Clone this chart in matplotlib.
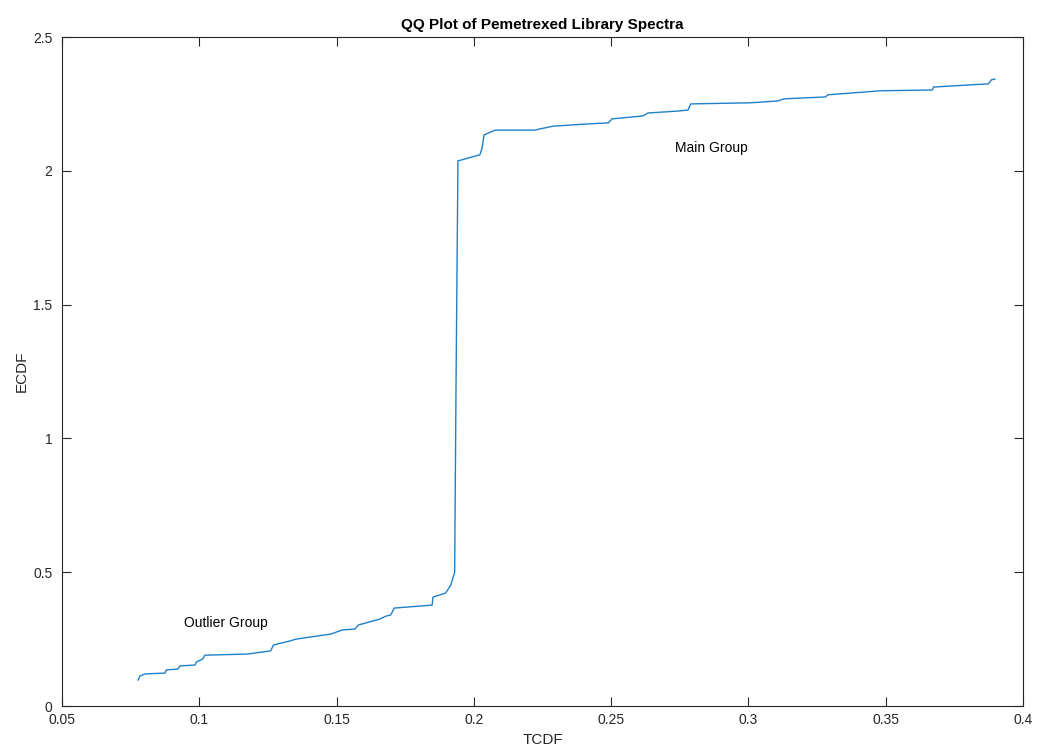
import matplotlib
matplotlib.use("Agg")
import matplotlib.pyplot as plt

plt.rcParams['font.family'] = ['Liberation Sans', 'DejaVu Sans']

# QQ curve points (TCDF, ECDF)
tcdf = [0.0777, 0.0784, 0.0802, 0.0875, 0.0880, 0.0922, 0.0930, 0.0984, 0.0990,
        0.1013, 0.1020, 0.1174, 0.1260, 0.1270, 0.1330, 0.1352, 0.1480, 0.1520,
        0.1567, 0.1580, 0.1658, 0.1680, 0.1697, 0.1710, 0.1848, 0.1851, 0.1897,
        0.1916, 0.1930, 0.1935, 0.1942, 0.2022, 0.2030, 0.2037, 0.2077, 0.2220,
        0.2290, 0.2412, 0.2490, 0.2503, 0.2616, 0.2634, 0.2740, 0.2780, 0.2790,
        0.3006, 0.3107, 0.3130, 0.3280, 0.3290, 0.3480, 0.3670, 0.3674, 0.3874,
        0.3885, 0.3898]
ecdf = [0.097, 0.112, 0.120, 0.123, 0.135, 0.138, 0.150, 0.153, 0.165,
        0.176, 0.190, 0.194, 0.206, 0.228, 0.243, 0.250, 0.269, 0.284,
        0.288, 0.303, 0.325, 0.336, 0.340, 0.366, 0.377, 0.407, 0.422,
        0.452, 0.500, 1.200, 2.037, 2.060, 2.085, 2.134, 2.152, 2.152,
        2.167, 2.175, 2.179, 2.194, 2.205, 2.216, 2.223, 2.227, 2.250,
        2.254, 2.261, 2.269, 2.276, 2.284, 2.299, 2.302, 2.313, 2.325,
        2.340, 2.343]

xticks = [0.05, 0.1, 0.15, 0.2, 0.25, 0.3, 0.35, 0.4]
xticklabels = ['0.05', '0.1', '0.15', '0.2', '0.25', '0.3', '0.35', '0.4']
yticks = [0, 0.5, 1, 1.5, 2, 2.5]
yticklabels = ['0', '0.5', '1', '1.5', '2', '2.5']

fig = plt.figure(figsize=(10.39, 7.49), dpi=100)
ax = fig.add_axes([0.0597, 0.0574, 0.9249, 0.8932])
ax.plot(tcdf, ecdf, color='#1F80C8', lw=1.0)

ax.set_xlim(0.05, 0.4)
ax.set_ylim(0, 2.5)
ax.set_xticks(xticks)
ax.set_xticklabels(xticklabels)
ax.set_yticks(yticks)
ax.set_yticklabels(yticklabels)

dark = '#262626'
for s in ax.spines.values():
    s.set_color(dark)
    s.set_linewidth(0.8)
ax.tick_params(direction='in', top=True, right=True, length=6.5, width=0.8,
               colors=dark, labelsize=10, labelcolor=dark)
ax.tick_params(axis='x', pad=5)
ax.tick_params(axis='y', pad=7)

ax.set_xlabel('TCDF', fontsize=11, color=dark, labelpad=4)
ax.set_ylabel('ECDF', fontsize=11, color=dark, labelpad=3)
ax.set_title('QQ Plot of Pemetrexed Library Spectra', fontsize=11,
             fontweight='bold', color='black', pad=6)

ax.text(0.0944, 0.31, 'Outlier Group', fontsize=10, va='center', ha='left', color='black')
ax.text(0.2732, 2.085, 'Main Group', fontsize=10, va='center', ha='left', color='black')

fig.savefig('out.png', dpi=100)
